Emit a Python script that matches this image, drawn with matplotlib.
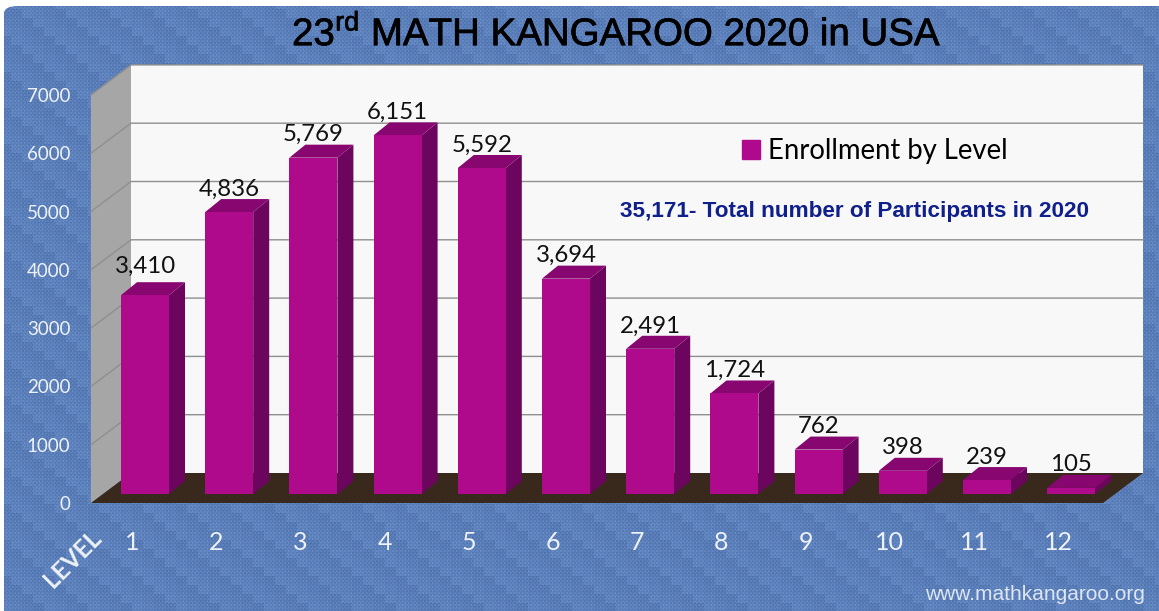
import numpy as np
import matplotlib
matplotlib.use('Agg')
import matplotlib.pyplot as plt
import matplotlib.patheffects as pe
from matplotlib.patches import FancyBboxPatch

levels = [1, 2, 3, 4, 5, 6, 7, 8, 9, 10, 11, 12]
enrollment = [3410, 4836, 5769, 6151, 5592, 3694, 2491, 1724, 762, 398, 239, 105]
value_ticks = [0, 1000, 2000, 3000, 4000, 5000, 6000, 7000]
title = r'23$^{\mathrm{rd}}$ MATH KANGAROO 2020 in USA'
total_note = '35,171- Total number of Participants in 2020'
series_name = 'Enrollment by Level'

plt.rcParams['mathtext.fontset'] = 'custom'
plt.rcParams['mathtext.rm'] = 'Liberation Sans'
LABEL_FONT = 'Lato'

W, H = 1159, 611
fig = plt.figure(figsize=(W / 100, H / 100), dpi=100, facecolor='white')

# full figure axes: level on x, value on y (level 1 centre at 145 px, zero at 494 px)
px_level = 84.2
px_value = 58.3 / 1000
ax = fig.add_axes([0, 0, 1, 1], zorder=1)
ax.set_xlim(1 - 145 / px_level, 1 + (W - 145) / px_level)
ax.set_ylim(-(H - 494) / px_value, 494 / px_value)
ax.axis('off')

# cloth-like blue background, small weave cells plus a coarser block pattern
yy, xx = np.mgrid[0:H, 0:W]
weave = ((xx // 2 + yy // 2) % 2) * 0.6 - 0.3
weave = weave + ((xx % 3 == 0) * 0.35) - ((yy % 3 == 0) * 0.35)
weave = weave + (((xx // 11) * 7 + (yy // 9) * 5) % 4 - 1.5) * 0.18
base = np.array([0.36, 0.50, 0.73])
tex = np.clip(base[None, None, :] + 0.06 * weave[:, :, None], 0, 1)
bg = ax.imshow(tex, extent=ax.get_xlim() + ax.get_ylim(), aspect='auto', zorder=0,
               interpolation='nearest', origin='upper')
clip = FancyBboxPatch((4 / W, -0.1), 1.2, 1.1 - 6 / H, boxstyle='round,pad=0,rounding_size=0.012',
                      transform=fig.transFigure, facecolor='none', edgecolor='none')
ax.add_patch(clip)
bg.set_clip_path(clip)

to_x = lambda px: 1 + (px - 145) / px_level
dx_bar = 16 / px_level
dy_bar = 13 / px_value
v_back = 21 / px_value   # wall bottom above bar base
v_front = -9 / px_value  # floor front edge below bar base
x_wall_l, x_wall_r = to_x(131), to_x(1143)
x_front_l, x_front_r = to_x(91), to_x(1103)
v_top = value_ticks[-1]
half = 24 / px_level

# walls and floor
ax.fill([x_wall_l, x_wall_r, x_wall_r, x_wall_l],
        [v_back, v_back, v_top + v_back, v_top + v_back], color='#f8f8f8', lw=0, zorder=1)
ax.fill([x_front_l, x_wall_l, x_wall_l, x_front_l],
        [v_front, v_back, v_top + v_back, v_top + v_front], color='#a6a6a6', lw=0, zorder=1)
ax.fill([x_front_l, x_front_r, x_wall_r, x_wall_l],
        [v_front, v_front, v_back, v_back], color='#39291c', lw=0, zorder=2)
for v in value_ticks[1:]:
    ax.plot([x_front_l, x_wall_l, x_wall_r], [v + v_front, v + v_back, v + v_back],
            color='#8f8f8f', lw=1.0, zorder=1.5, solid_joinstyle='miter')

# bars
z = 3
for lev, val in zip(levels, enrollment):
    ax.bar(lev, val, width=2 * half, color='#b00a8c', lw=0, zorder=z + 0.2)
    ax.fill([lev + half, lev + half + dx_bar, lev + half + dx_bar, lev + half],
            [0, dy_bar, val + dy_bar, val], color='#6c055e', lw=0, zorder=z)
    ax.fill([lev - half, lev + half, lev + half + dx_bar, lev - half + dx_bar],
            [val, val, val + dy_bar, val + dy_bar], color='#870670', lw=0, zorder=z)
    # the first label sits a little higher in the original
    lift = 21 if lev == 1 else 16.5
    ax.annotate(f'{val:,}', (lev, val), xytext=(0, lift), textcoords='offset points',
                ha='center', va='center', fontsize=17.3, family=LABEL_FONT, color='#111111', zorder=20)
    z += 1

# legend
handle = plt.Rectangle((0, 0), 1, 1, color='#b00a8c')
ax.legend([handle], [series_name], loc='center left', bbox_to_anchor=(734 / W, 1 - 151 / H),
          frameon=False, prop={'family': LABEL_FONT, 'size': 19.8}, handlelength=0.65,
          handleheight=0.65, handletextpad=0.3, borderpad=0.3, borderaxespad=0)

# axis labels live on the front plane of the floor
tick_ax = fig.add_axes([76 / W, 1 - 503 / H, (1100 - 76) / W, (503 - 95) / H], zorder=2)
tick_ax.patch.set_visible(False)
tick_ax.set_xlim(1 + (76 - 132) / px_level, 1 + (1100 - 132) / px_level)
tick_ax.set_ylim(0, value_ticks[-1])
for s in tick_ax.spines.values():
    s.set_visible(False)
tick_ax.set_xticks(levels)
tick_ax.set_yticks(value_ticks)
tick_ax.tick_params(axis='y', length=0, pad=4, labelsize=13.5, labelcolor='#eef2f8')
tick_ax.tick_params(axis='x', length=0, pad=20.5, labelsize=18, labelcolor='#eef2f8')
for t in tick_ax.get_xticklabels() + tick_ax.get_yticklabels():
    t.set_family(LABEL_FONT)

fig.text(72 / W, 1 - 559 / H, 'LEVEL', rotation=45, ha='center', va='center', fontsize=17.5,
         family=LABEL_FONT, weight='bold', color='#eef2f8', zorder=5)
t = fig.text(617 / W, 1 - 34 / H, title, ha='center', va='center', fontsize=27.7,
             family='Liberation Sans', color='black', zorder=5)
t.set_path_effects([pe.withStroke(linewidth=0.5, foreground='black')])
fig.text(855 / W, 1 - 211 / H, total_note, ha='center', va='center', fontsize=16.2,
         family='Liberation Sans', weight='bold', color='#0f1f8c', zorder=5)
fig.text(1145 / W, 1 - 595 / H, 'www.mathkangaroo.org', ha='right', va='center', fontsize=15,
         family='Liberation Sans', color='#dde5f2', zorder=5)

fig.savefig('out.png', dpi=100)
